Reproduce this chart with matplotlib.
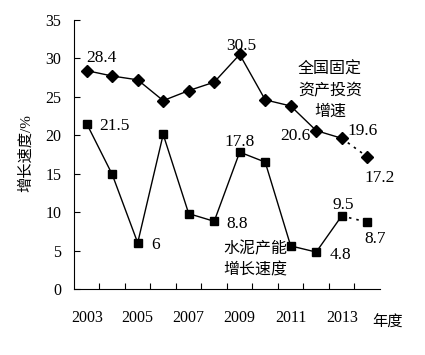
import numpy as np
import matplotlib
matplotlib.use('Agg')
import matplotlib.pyplot as plt

plt.rcParams['font.family'] = ['Liberation Serif', 'Noto Sans CJK SC']

years = ['2003', '2004', '2005', '2006', '2007', '2008',
         '2009', '2010', '2011', '2012', '2013', '2014']
invest = [28.4, 27.7, 27.2, 24.5, 25.8, 26.9, 30.5, 24.6, 23.8, 20.6, 19.6, 17.2]
cement = [21.5, 14.9, 6.0, 20.1, 9.8, 8.8, 17.8, 16.5, 5.6, 4.8, 9.5, 8.7]
tick_years = ['2003', '2005', '2007', '2009', '2011', '2013']

# labelled points: (index, text, dx, dy, ha) offsets in points
invest_labels = [(0, '28.4', 0, 9, 'left'), (6, '30.5', 1, 6, 'center'),
                 (9, '20.6', -4, -4, 'right'), (10, '19.6', 4, 5, 'left'),
                 (11, '17.2', -2, -15, 'left')]
cement_labels = [(0, '21.5', 9, -2, 'left'), (2, '6', 10, -1.5, 'left'),
                 (6, '17.8', 0, 7, 'center'), (5, '8.8', 9, -2, 'left'),
                 (9, '4.8', 9.5, -2, 'left'), (10, '9.5', 1, 8, 'center'),
                 (11, '8.7', -2, -12, 'left')]

x = np.arange(len(years))

fig = plt.figure(figsize=(4.25, 3.55), dpi=100)
ax = fig.add_axes([0.174, 0.186, 0.72, 0.758])

ax.plot(x[:-1], invest[:-1], color='black', lw=1, marker='D', ms=6)
ax.plot(x[-2:], invest[-2:], color='black', lw=1.2, ls=(0, (1.5, 3)))
ax.plot(x[-1], invest[-1], color='black', marker='D', ms=6)

ax.plot(x[:-1], cement[:-1], color='black', lw=1, marker='s', ms=5.5)
ax.plot(x[-2:], cement[-2:], color='black', lw=1.2, ls=(0, (1.5, 3)))
ax.plot(x[-1], cement[-1], color='black', marker='s', ms=5.5)

for i, t, dx, dy, ha in invest_labels:
    ax.annotate(t, (x[i], invest[i]), xytext=(dx, dy), textcoords='offset points',
                ha=ha, va='center', fontsize=12.5)
for i, t, dx, dy, ha in cement_labels:
    ax.annotate(t, (x[i], cement[i]), xytext=(dx, dy), textcoords='offset points',
                ha=ha, va='center', fontsize=12.5)

ax.text(9.54, 29.6, '全国固定\n资产投资\n增速', ha='center', va='top', fontsize=11.5,
        linespacing=1.42)
ax.text(5.35, 6.2, '水泥产能\n增长速度', ha='left', va='top', fontsize=11.5,
        linespacing=1.45)

ax.set_xlim(-0.5, 11.5)
ax.set_ylim(0, 35)
ax.set_yticks(np.arange(0, 36, 5))
ax.set_xticks(np.arange(0.5, 11.5, 1))
ax.set_xticklabels([])
ax.set_xticks(x[::2], minor=True)
ax.set_xticklabels(tick_years, minor=True)
ax.tick_params(axis='x', which='major', direction='in', length=4)
ax.tick_params(axis='x', which='minor', length=0, pad=15, labelsize=11.5)
ax.tick_params(axis='y', direction='in', length=4, labelsize=11.5, pad=9)
ax.spines['top'].set_visible(False)
ax.spines['right'].set_visible(False)

ax.set_ylabel('增长速度/%', fontsize=11)
ax.yaxis.set_label_coords(-0.134, 0.505)
fig.text(0.875, 0.09, '年度', fontsize=11, ha='left', va='center')

fig.savefig('out.png', dpi=100)
